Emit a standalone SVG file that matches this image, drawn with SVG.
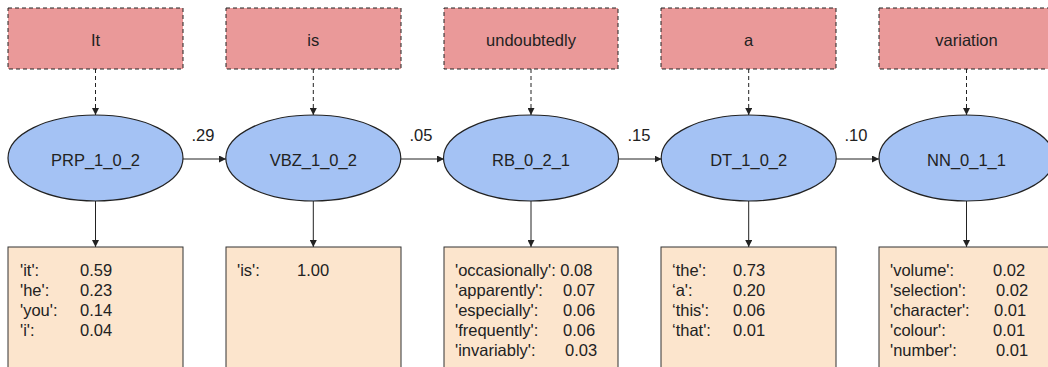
<svg xmlns="http://www.w3.org/2000/svg" width="1048" height="367" viewBox="0 0 1048 367">
<style>
.word{fill:#ea9999;stroke:#222;stroke-width:1;stroke-dasharray:4,3}
.state{fill:#a4c2f4;stroke:#222;stroke-width:1.2}
.emit{fill:#fce5cd;stroke:#333;stroke-width:1}
text{font-family:"Liberation Sans",Arial,sans-serif;fill:#222}
.lbl{font-size:16.5px;text-anchor:middle}
.lst{font-size:16.5px}
.c{stroke:#222;stroke-width:1;fill:none}
.d{stroke-dasharray:4,3}
</style>
<defs>
<marker id="ah" viewBox="0 0 10 10" refX="10" refY="5" markerWidth="7" markerHeight="7" markerUnits="userSpaceOnUse" orient="auto">
<path d="M0,0 L10,5 L0,10 z" fill="#222"/>
</marker>
</defs>
<rect width="1048" height="367" fill="#fff"/>
<g id="connectors">
<line class="c d" x1="95.5" y1="69" x2="95.5" y2="115" marker-end="url(#ah)"/>
<line class="c d" x1="313.3" y1="69" x2="313.3" y2="115" marker-end="url(#ah)"/>
<line class="c d" x1="531" y1="69" x2="531" y2="115" marker-end="url(#ah)"/>
<line class="c d" x1="748.7" y1="69" x2="748.7" y2="115" marker-end="url(#ah)"/>
<line class="c d" x1="966.5" y1="69" x2="966.5" y2="115" marker-end="url(#ah)"/>
<line class="c" x1="95.5" y1="201" x2="95.5" y2="247" marker-end="url(#ah)"/>
<line class="c" x1="313.3" y1="201" x2="313.3" y2="247" marker-end="url(#ah)"/>
<line class="c" x1="531" y1="201" x2="531" y2="247" marker-end="url(#ah)"/>
<line class="c" x1="748.7" y1="201" x2="748.7" y2="247" marker-end="url(#ah)"/>
<line class="c" x1="966.5" y1="201" x2="966.5" y2="247" marker-end="url(#ah)"/>
<line class="c" x1="183" y1="159" x2="226" y2="159" marker-end="url(#ah)"/>
<line class="c" x1="401" y1="159" x2="444" y2="159" marker-end="url(#ah)"/>
<line class="c" x1="618.5" y1="159" x2="661.5" y2="159" marker-end="url(#ah)"/>
<line class="c" x1="836" y1="159" x2="879" y2="159" marker-end="url(#ah)"/>
<text class="lbl" x="203" y="141">.29</text>
<text class="lbl" x="421" y="141">.05</text>
<text class="lbl" x="639" y="141">.15</text>
<text class="lbl" x="856" y="141">.10</text>
</g>
<g id="w1"><rect class="word" x="8" y="8" width="175" height="61"/><text class="lbl" x="95.5" y="46">It</text></g>
<g id="w2"><rect class="word" x="226" y="8" width="175" height="61"/><text class="lbl" x="313.3" y="46">is</text></g>
<g id="w3"><rect class="word" x="444" y="8" width="174" height="61"/><text class="lbl" x="531" y="46">undoubtedly</text></g>
<g id="w4"><rect class="word" x="661" y="8" width="175" height="61"/><text class="lbl" x="748.7" y="46">a</text></g>
<g id="w5"><rect class="word" x="879" y="8" width="175" height="61"/><text class="lbl" x="966.5" y="46">variation</text></g>
<g id="s1"><ellipse class="state" cx="95.5" cy="158" rx="87.5" ry="43"/><text class="lbl" x="95.5" y="166">PRP_1_0_2</text></g>
<g id="s2"><ellipse class="state" cx="313.3" cy="158" rx="87.5" ry="43"/><text class="lbl" x="313.3" y="166">VBZ_1_0_2</text></g>
<g id="s3"><ellipse class="state" cx="531" cy="158" rx="87.5" ry="43"/><text class="lbl" x="531" y="166">RB_0_2_1</text></g>
<g id="s4"><ellipse class="state" cx="748.7" cy="158" rx="87.5" ry="43"/><text class="lbl" x="748.7" y="166">DT_1_0_2</text></g>
<g id="s5"><ellipse class="state" cx="966.5" cy="158" rx="87.5" ry="43"/><text class="lbl" x="966.5" y="166">NN_0_1_1</text></g>
<g id="e1"><rect class="emit" x="8" y="247" width="175" height="130"/>
<text class="lst" x="20" y="276">'it':</text><text class="lst" x="80" y="276">0.59</text>
<text class="lst" x="20" y="296">'he':</text><text class="lst" x="80" y="296">0.23</text>
<text class="lst" x="20" y="316">'you':</text><text class="lst" x="80" y="316">0.14</text>
<text class="lst" x="20" y="336">'i':</text><text class="lst" x="80" y="336">0.04</text>
</g>
<g id="e2"><rect class="emit" x="226" y="247" width="175" height="130"/>
<text class="lst" x="237" y="276">'is':</text><text class="lst" x="297" y="276">1.00</text>
</g>
<g id="e3"><rect class="emit" x="444" y="247" width="174" height="130"/>
<text class="lst" x="455" y="276">'occasionally': 0.08</text>
<text class="lst" x="455" y="296">'apparently':</text><text class="lst" x="563" y="296">0.07</text>
<text class="lst" x="455" y="316">'especially':</text><text class="lst" x="563" y="316">0.06</text>
<text class="lst" x="455" y="336">'frequently':</text><text class="lst" x="563" y="336">0.06</text>
<text class="lst" x="455" y="356">'invariably':</text><text class="lst" x="565" y="356">0.03</text>
</g>
<g id="e4"><rect class="emit" x="661" y="247" width="175" height="130"/>
<text class="lst" x="672" y="276">‘the':</text><text class="lst" x="733" y="276">0.73</text>
<text class="lst" x="672" y="296">‘a':</text><text class="lst" x="733" y="296">0.20</text>
<text class="lst" x="672" y="316">‘this':</text><text class="lst" x="733" y="316">0.06</text>
<text class="lst" x="672" y="336">‘that':</text><text class="lst" x="733" y="336">0.01</text>
</g>
<g id="e5"><rect class="emit" x="879" y="247" width="175" height="130"/>
<text class="lst" x="890" y="276">'volume':</text><text class="lst" x="993" y="276">0.02</text>
<text class="lst" x="890" y="296">'selection':</text><text class="lst" x="996" y="296">0.02</text>
<text class="lst" x="890" y="316">'character':</text><text class="lst" x="994" y="316">0.01</text>
<text class="lst" x="890" y="336">'colour':</text><text class="lst" x="993" y="336">0.01</text>
<text class="lst" x="890" y="356">'number':</text><text class="lst" x="996" y="356">0.01</text>
</g>
</svg>
